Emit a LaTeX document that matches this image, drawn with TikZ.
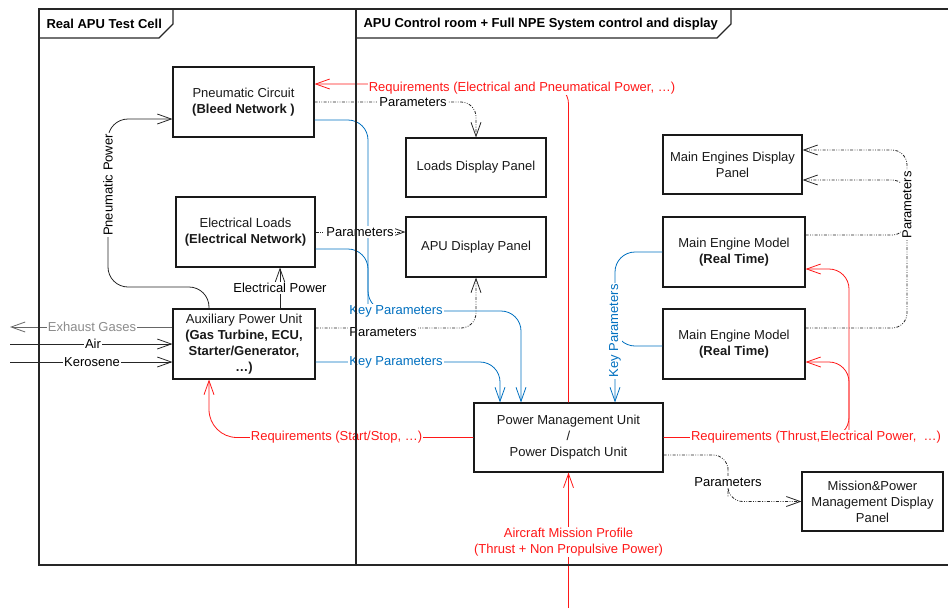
\documentclass[tikz,border=0pt]{standalone}
\usepackage{fontspec}
\setmainfont{Liberation Sans}
\usetikzlibrary{arrows.meta,calc}
\definecolor{reqred}{RGB}{255,24,24}
\definecolor{kpblue}{RGB}{0,112,192}
\definecolor{exgray}{RGB}{140,140,140}
\begin{document}
\begin{tikzpicture}[x=1pt,y=-1pt,
  every node/.style={font=\fontsize{13pt}{16pt}\selectfont},
  box/.style={draw=black!90, line width=1.1pt, align=center, inner sep=0pt, text=black!90},
  lbl/.style={fill=white, inner sep=1pt, align=center},
  con/.style={line width=0.8pt, rounded corners=15pt},
  arr/.style={-{Straight Barb[length=14pt,width=10pt]}},
  req/.style={con, draw=reqred, rounded corners=20pt},
  kp/.style={con, draw=kpblue, rounded corners=20pt},
  par/.style={con, draw=black!85, dash pattern=on 3pt off 1.5pt on 0.8pt off 1.5pt on 0.8pt off 1.5pt},
  sol/.style={con, draw=black!85},
  frame/.style={line width=1.1pt, draw=black!85}
]
\useasboundingbox (0,0) rectangle (948,608);

% boxes
\node[box, minimum width=141pt, minimum height=70pt] (pneu) at (243.5,102) {Pneumatic Circuit\\\textbf{(Bleed Network )}};
\node[box, minimum width=139pt, minimum height=70pt] (elec) at (245.5,232) {Electrical Loads\\\textbf{(Electrical Network)}};
\node[box, minimum width=142pt, minimum height=70pt] (apu) at (244,344) {Auxiliary Power Unit\\\textbf{(Gas Turbine, ECU,}\\\textbf{Starter/Generator,}\\\textbf{…)}};
\node[box, minimum width=140pt, minimum height=59pt] (ldp) at (476,167.5) {Loads Display Panel};
\node[box, minimum width=140pt, minimum height=60pt] (apd) at (476,247) {APU Display Panel};
\node[box, minimum width=139pt, minimum height=59pt] (med) at (732.5,164.5) {Main Engines Display\\Panel};
\node[box, minimum width=142pt, minimum height=70pt] (me1) at (734,252) {Main Engine Model\\\textbf{(Real Time)}};
\node[box, minimum width=142pt, minimum height=70pt] (me2) at (734,344) {Main Engine Model\\\textbf{(Real Time)}};
\node[box, minimum width=189pt, minimum height=69pt] (pmu) at (568.5,437.5) {Power Management Unit\\/\\Power Dispatch Unit};
\node[box, minimum width=141pt, minimum height=59pt] (mpd) at (872.5,501.5) {Mission\&Power\\Management Display\\Panel};

% free ends and junctions
\coordinate (exh) at (10,327);
\coordinate (air) at (10,344);
\coordinate (ker) at (10,362);
\coordinate (mis) at (568.5,608);
\coordinate (rj) at (849,437.5);
\coordinate (kpa) at (368,311);
\coordinate (kpb) at (615,331);
\coordinate (pj) at (907,205);
\coordinate (pp) at (728,482);
\coordinate (pw) at (108,287);

% red requirements
\draw[req, arr] (pmu.north) |- ([yshift=18pt]pneu.east);
\draw[req, arr, rounded corners=28pt] (pmu.west) -| ([xshift=-35pt]apu.south);
\draw[req, arr] (pmu.east) -- (rj) |- ([yshift=-17pt]me1.east);
\draw[req, arr] (rj) |- ([yshift=-18pt]me2.east);
\draw[req, arr] (mis) -- (pmu.south);

% blue key parameters
\draw[kp, arr] ([yshift=-18pt]pneu.east) -| (kpa) -| ([xshift=-47.5pt]pmu.north);
\draw[kp] ([yshift=-17pt]elec.east) -| (kpa);
\draw[kp, arr] ([yshift=-18pt]apu.east) -| ([xshift=-68.5pt]pmu.north);
\draw[kp, arr] (me1.west) -| ([xshift=46.5pt]pmu.north);
\draw[kp] ([yshift=-2pt]me2.west) -| (kpb);

% dashed parameters
\draw[par, arr] (pneu.east) -| (ldp.north);
\draw[par, arr] (elec.east) -- (elec.east -| apd.west);
\draw[par, arr] ([yshift=16pt]apu.east) -| (apd.south);
\draw[par, arr] ([yshift=17pt]me1.east) -| (pj) |- ([yshift=14.5pt]med.east);
\draw[par] ([yshift=16pt]me2.east) -| (pj);
\draw[par, arr] (pj) |- ([yshift=-15.5pt]med.east);
\draw[par, arr] ([yshift=-17.5pt]pmu.east) -| (pp) |- (mpd.west);

% solid black
\draw[sol, arr, rounded corners=20pt] ([xshift=-35pt]apu.north) |- (pw) |- ([yshift=-17pt]pneu.west);
\draw[sol, arr] ([xshift=36pt]apu.north) -- ([xshift=34.5pt]elec.south);
\draw[sol, draw=black!60, arr] ([yshift=17pt]apu.west) -- (exh);
\draw[sol, arr] (air) -- (apu.west);
\draw[sol, arr] (ker) -- ([yshift=-18pt]apu.west);

% labels
\node[lbl, text=reqred] (l1) at (522,88) {Requirements (Electrical and Pneumatical Power, …)};
\node[lbl, text=reqred] (l2) at (336.5,437) {Requirements (Start/Stop, …)};
\node[lbl, text=reqred] (l3) at (816,437.5) {Requirements (Thrust,Electrical Power,~ …)};
\node[lbl, text=reqred] (l4) at (568.5,542) {Aircraft Mission Profile\\(Thrust + Non Propulsive Power)};
\node[lbl, text=kpblue] (l5) at (396,311) {Key Parameters};
\node[lbl, text=kpblue] (l6) at (396,362) {Key Parameters};
\node[lbl, text=kpblue, rotate=90] (l7) at (615,331) {Key Parameters};
\node[lbl] (l8) at (413,102) {Parameters};
\node[lbl] (l9) at (360,232) {Parameters};
\node[lbl] (l10) at (383,332) {Parameters};
\node[lbl, rotate=90] (l11) at (907,205) {Parameters};
\node[lbl] (l12) at (728,482) {Parameters};
\node[lbl, rotate=90] (l13) at (108,185) {Pneumatic Power};
\node[lbl] (l14) at (280,288) {Electrical Power};
\node[lbl, text=exgray] (l15) at (92,327) {Exhaust Gases};
\node[lbl] (l16) at (93,344) {Air};
\node[lbl] (l17) at (92,362) {Kerosene};

% frames
\draw[frame] (39,9) rectangle (356,565);
\draw[frame] (948,9) -- (356,9) -- (356,565) -- (948,565);
\draw[frame] (39,38) -- (159,38) -- (173,24) -- (173,9);
\draw[frame] (356,38) -- (717,38) -- (731,24) -- (731,9);
\node[anchor=west, font=\fontsize{13pt}{16pt}\selectfont\bfseries] (t1) at (43,24) {Real APU Test Cell};
\node[anchor=west, font=\fontsize{13pt}{16pt}\selectfont\bfseries] (t2) at (360,24) {APU Control room + Full NPE System control and display};
\end{tikzpicture}
\end{document}
